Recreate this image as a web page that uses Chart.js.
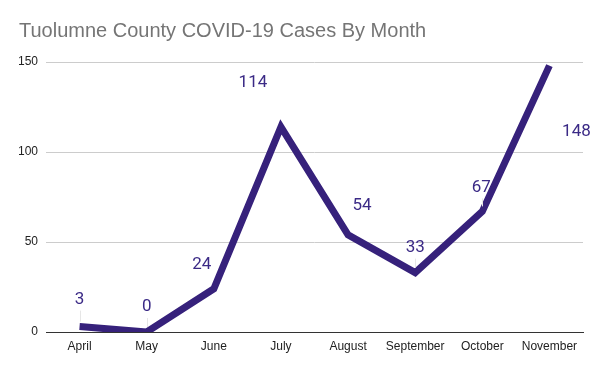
<!DOCTYPE html>
<html>
<head>
<meta charset="utf-8">
<script src="https://cdn.jsdelivr.net/npm/chart.js@4"></script>
<style>
  html, body { margin: 0; padding: 0; background: #fff; }
  #wrap { width: 600px; height: 371px; }
</style>
</head>
<body>
<div id="wrap"><canvas id="casesChart"></canvas></div>
<script>
const months = ["April", "May", "June", "July", "August", "September", "October", "November"];
const cases = [3, 0, 24, 114, 54, 33, 67, 148];
const yTicks = [0, 50, 100, 150];

// where each value label sits relative to its point (px)
const labelShift = [[0, -27], [0, -25], [-12, -24], [-28, -44], [14, -29], [0, -25], [-1, -24], [27, 66]];

const lineColor = "#36217b";
const uiFont = "'Liberation Sans', Arial, sans-serif";

const valueLabels = {
  id: "valueLabels",
  afterDatasetsDraw(chart) {
    const ctx = chart.ctx;
    const meta = chart.getDatasetMeta(0);
    ctx.save();
    ctx.font = "17px Roboto, Arial, sans-serif";
    ctx.textAlign = "center";
    ctx.textBaseline = "middle";
    meta.data.forEach((pt, i) => {
      const [dx, dy] = labelShift[i];
      if (Math.abs(dx) < 2) {
        ctx.strokeStyle = "#e6e6e6";
        ctx.lineWidth = 1;
        ctx.beginPath();
        ctx.moveTo(Math.round(pt.x) + 0.5, pt.y + dy + 11);
        ctx.lineTo(Math.round(pt.x) + 0.5, pt.y - 5);
        ctx.stroke();
      }
      ctx.fillStyle = "#3b2a86";
      ctx.fillText(String(cases[i]), pt.x + dx, pt.y + dy);
    });
    ctx.restore();
  }
};

new Chart(document.getElementById("casesChart"), {
  type: "line",
  data: {
    labels: months,
    datasets: [{
      label: "Cases",
      data: cases,
      borderColor: lineColor,
      backgroundColor: lineColor,
      borderWidth: 7,
      pointRadius: 0,
      tension: 0,
      borderCapStyle: "butt",
      borderJoinStyle: "miter",
    }],
  },
  options: {
    responsive: true,
    maintainAspectRatio: false,
    animation: false,
    layout: { padding: { left: 19, right: 17, top: 0, bottom: 0 } },
    plugins: {
      legend: { display: false },
      tooltip: { enabled: false },
      title: {
        display: true,
        text: "Tuolumne County COVID-19 Cases By Month",
        align: "start",
        color: "#757575",
        font: { family: uiFont, size: 20, weight: "normal", lineHeight: 1.2 },
        padding: { top: 19, bottom: 19 },
      },
    },
    scales: {
      x: {
        offset: true,
        grid: { display: false, drawTicks: false },
        border: { display: true, color: "#333", width: 1 },
        ticks: {
          color: "#222",
          padding: 7,
          maxRotation: 0,
          autoSkip: false,
          font: { family: uiFont, size: 12 },
        },
        afterFit(scale) { scale.height = 39; },
      },
      y: {
        min: 0,
        max: 150,
        afterBuildTicks(scale) { scale.ticks = yTicks.map(v => ({ value: v })); },
        grid: { color: "#cccccc", drawTicks: false },
        border: { display: false },
        ticks: {
          color: "#222",
          padding: 8,
          font: { family: uiFont, size: 12 },
        },
        afterFit(scale) { scale.width = 27; },
      },
    },
  },
  plugins: [valueLabels],
});
</script>
</body>
</html>
